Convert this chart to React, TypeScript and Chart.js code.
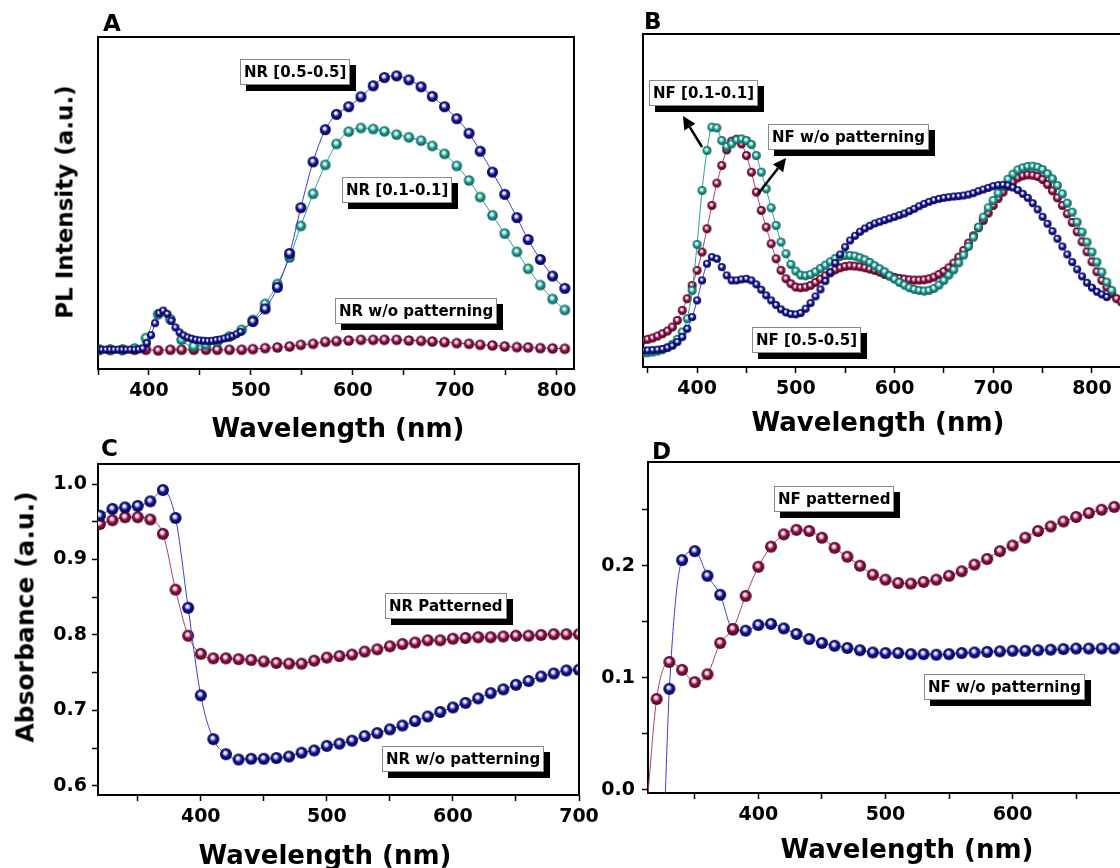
import React, { useEffect, useRef } from 'react';
import { Chart, registerables } from 'chart.js';

Chart.register(...registerables);

const FONT = "'DejaVu Sans', 'Liberation Sans', Arial, sans-serif";

// ---------------- Panel A : PL of nanorods ----------------
const A_X_BLUE = [
  350, 354, 358, 362, 366, 370, 374, 378, 382, 386, 390, 394, 398, 402, 406, 410, 414, 418, 422, 426,
  430, 434, 438, 442, 446, 450, 454, 458, 462, 466, 470, 474, 478, 482, 486, 490,
  502, 514, 526, 538, 549, 561, 573, 584, 596, 608, 620, 631, 643, 655, 667, 678, 690, 702, 714, 725,
  737, 749, 761, 772, 784, 796, 808,
];
const A_BLUE = [
  5.8, 5.8, 5.8, 5.8, 5.8, 5.8, 5.8, 5.8, 5.8, 5.8, 5.9, 6.2, 7.8, 10.2, 13.8, 16.8, 17.6, 16.6, 14.5, 12.5,
  11, 10.1, 9.5, 9.1, 8.8, 8.6, 8.5, 8.4, 8.5, 8.7, 8.9, 9.2, 9.5, 9.9, 10.5, 11.2,
  14.3, 18.1, 24.6, 34.8, 48.6, 62.4, 72.1, 76.7, 79, 82, 85.3, 87.8, 88.3, 87.1, 85, 82.1, 79, 75.4, 71, 65.6,
  59.3, 52.6, 45.6, 39, 33, 28, 24.3,
];
const A_BLUE_DENSE_COUNT = 36;
const A_X = [
  351, 362, 374, 386, 397, 409, 421, 432, 444, 456, 467, 479, 491, 502, 514, 526, 538, 549, 561, 573,
  584, 596, 608, 620, 631, 643, 655, 667, 678, 690, 702, 714, 725, 737, 749, 761, 772, 784, 796, 808,
];
const A_TEAL = [
  5.8, 5.8, 5.8, 6.2, 9.3, 16.5, 15, 8.8, 6.8, 7.3, 8.3, 9.8, 11.8, 14.8, 19.6, 25.6, 33.6, 43.1, 52.8, 61.5,
  67.8, 71.5, 72.6, 72.3, 71.6, 70.6, 69.8, 68.8, 67.2, 64.8, 61.2, 56.8, 51.8, 46.3, 40.8, 35.3, 30.2, 25.3, 21.1, 17.8,
];
const A_MAROON = [
  5.8, 5.8, 5.8, 5.8, 5.8, 5.6, 5.8, 5.8, 5.8, 5.8, 5.8, 5.8, 5.8, 6.0, 6.3, 6.5, 6.8, 7.3, 7.6, 8.2,
  8.4, 8.6, 8.8, 8.8, 8.8, 8.8, 8.6, 8.5, 8.3, 8.1, 7.8, 7.6, 7.3, 7.1, 6.8, 6.6, 6.5, 6.3, 6.2, 6.1,
];
const A_X_TICKS = [350, 400, 450, 500, 550, 600, 650, 700, 750, 800];

// ---------------- Panel B : PL of nanoflowers ----------------
const B_X = [
  345, 350, 355, 360, 365, 370, 375, 380, 385, 390, 395, 400, 405, 410, 415, 420, 425, 430, 435, 440,
  445, 450, 455, 460, 465, 470, 475, 480, 485, 490, 495, 500, 505, 510, 515, 520, 525, 530, 535, 540,
  545, 550, 555, 560, 565, 570, 575, 580, 585, 590, 595, 600, 605, 610, 615, 620, 625, 630, 635, 640,
  645, 650, 655, 660, 665, 670, 675, 680, 685, 690, 695, 700, 705, 710, 715, 720, 725, 730, 735, 740,
  745, 750, 755, 760, 765, 770, 775, 780, 785, 790, 795, 800, 805, 810, 815, 820, 825, 830,
];
const B_TEAL = [
  4.2, 4.3, 4.5, 4.8, 5.2, 5.8, 6.8, 8.3, 10.5, 14.5,
  23, 36.8, 53, 65, 72, 71.8, 68, 66.2, 67, 68.2,
  68.5, 68, 66.8, 63.5, 58.5, 53.5, 47.8, 42.5, 37.5, 34,
  30.8, 28.8, 27.6, 27.4, 27.8, 28.6, 29.6, 30.6, 31.6, 32.6,
  33.2, 33.5, 33.5, 33.3, 32.8, 32.2, 31.4, 30.4, 29.5, 28.6,
  27.4, 26.4, 25.4, 24.6, 23.8, 23.3, 23, 22.8, 23, 23.6,
  24.6, 26, 27.6, 29.2, 31.3, 33.6, 36.2, 39, 42, 45,
  47.8, 50, 52.2, 54.2, 56.4, 57.9, 59.2, 59.8, 60.2, 60.3,
  60, 59.3, 58, 56.5, 54.5, 52, 49.2, 46.5, 43.5, 40.5,
  37.5, 34.5, 31.5, 28.5, 25.5, 23,
];
const B_MAROON = [
  8, 8.3, 8.7, 9.3, 10, 10.8, 12, 14, 17, 20.5,
  24.5, 29, 34.5, 41.5, 48.5, 55.2, 60.5, 65.2, 67.8, 68.4,
  67, 63.5, 58.5, 52.5, 47, 42, 37, 32.5, 29, 26.5,
  25, 24, 23.8, 24, 24.5, 25.4, 26.4, 27.4, 28.3, 29.2,
  29.8, 30.2, 30.4, 30.3, 30.1, 29.8, 29.4, 29, 28.5, 27.8,
  27.3, 26.9, 26.6, 26.4, 26.2, 26.1, 26.1, 26.2, 26.5, 27,
  27.8, 28.7, 29.8, 31.2, 33, 35, 37.2, 39.4, 41.8, 44,
  46.2, 48.5, 50.6, 52.5, 54.3, 55.6, 56.8, 57.4, 57.7, 57.6,
  57.2, 56.3, 54.8, 52.9, 50.8, 48.5, 46, 43.4, 40.6, 37.6,
  34.6, 31.6, 28.6, 26, 24, 22, 20.5, 19.5,
];
const B_BLUE = [
  5, 5, 5.1, 5.2, 5.4, 5.8, 6.4, 7.5, 9, 11.5,
  15, 20, 26, 31, 33, 32.5, 30, 27.5, 26, 26,
  26.3, 26.5, 26, 24.8, 23.2, 21.5, 20, 18.6, 17.3, 16.4,
  15.9, 15.8, 16.2, 17.5, 19.2, 21.2, 23.3, 25.8, 28.4, 31.2,
  33.8, 36, 38, 39.4, 40.6, 41.6, 42.4, 43.1, 43.6, 44.1,
  44.6, 45.1, 45.6, 46.1, 46.8, 47.5, 48.3, 49, 49.6, 50.1,
  50.5, 50.8, 51, 51.2, 51.3, 51.5, 51.8, 52.2, 52.8, 53.3,
  53.8, 54.3, 54.6, 54.7, 54.5, 53.9, 53.1, 52, 50.8, 49.2,
  47.3, 45.1, 43, 40.8, 38.5, 36.2, 33.8, 31.5, 29.3, 27.2,
  25.3, 23.8, 22.6, 21.8, 21,
];
const B_X_TICKS = [350, 400, 450, 500, 550, 600, 650, 700, 750, 800];

// ---------------- Panel C : absorbance of nanorods ----------------
const C_X = [
  320, 330, 340, 350, 360, 370, 380, 390, 400, 410, 420, 430, 440, 450, 460, 470, 480, 490, 500, 510,
  520, 530, 540, 550, 560, 570, 580, 590, 600, 610, 620, 630, 640, 650, 660, 670, 680, 690, 700,
];
const C_BLUE = [
  0.958, 0.967, 0.969, 0.971, 0.977, 0.992, 0.955, 0.836, 0.720, 0.662, 0.642, 0.635, 0.636, 0.636, 0.637,
  0.639, 0.644, 0.647, 0.653, 0.656, 0.660, 0.666, 0.670, 0.675, 0.680, 0.686, 0.692, 0.698, 0.704, 0.710,
  0.716, 0.723, 0.728, 0.734, 0.739, 0.745, 0.749, 0.753, 0.754,
];
const C_MAROON = [
  0.947, 0.952, 0.956, 0.956, 0.953, 0.934, 0.860, 0.799, 0.775, 0.769, 0.769, 0.768, 0.767, 0.765, 0.763,
  0.762, 0.762, 0.766, 0.770, 0.772, 0.774, 0.778, 0.781, 0.785, 0.788, 0.790, 0.793, 0.793, 0.795, 0.796,
  0.797, 0.797, 0.798, 0.799, 0.799, 0.800, 0.801, 0.801, 0.801,
];
const C_X_TICKS = [350, 400, 450, 500, 550, 600, 650, 700];
const C_Y_TICKS = [0.6, 0.65, 0.7, 0.75, 0.8, 0.85, 0.9, 0.95, 1.0];

// ---------------- Panel D : absorbance of nanoflowers ----------------
const D_X_MAROON = [
  312, 320, 330, 340, 350, 360, 370, 380, 390, 400, 410, 420, 430, 440, 450, 460, 470, 480, 490, 500,
  510, 520, 530, 540, 550, 560, 570, 580, 590, 600, 610, 620, 630, 640, 650, 660, 670, 680,
];
const D_MAROON = [
  -0.02, 0.081, 0.114, 0.107, 0.096, 0.103, 0.131, 0.1435, 0.173, 0.199, 0.217, 0.228, 0.232, 0.231, 0.225,
  0.216, 0.208, 0.200, 0.192, 0.1875, 0.1845, 0.184, 0.1855, 0.1875, 0.191, 0.195, 0.201, 0.206, 0.213,
  0.218, 0.225, 0.231, 0.235, 0.2395, 0.2435, 0.247, 0.250, 0.2525,
];
const D_X_BLUE = [
  326, 330, 340, 350, 360, 370, 380, 390, 400, 410, 420, 430, 440, 450, 460, 470, 480, 490, 500, 510,
  520, 530, 540, 550, 560, 570, 580, 590, 600, 610, 620, 630, 640, 650, 660, 670, 680,
];
const D_BLUE = [
  -0.03, 0.090, 0.205, 0.213, 0.191, 0.174, 0.143, 0.142, 0.147, 0.148, 0.144, 0.139, 0.1345, 0.131, 0.1285,
  0.1265, 0.1245, 0.1225, 0.122, 0.122, 0.121, 0.121, 0.1205, 0.121, 0.122, 0.1225, 0.123, 0.1235, 0.124,
  0.124, 0.1245, 0.125, 0.1255, 0.126, 0.126, 0.126, 0.126,
];
const D_X_TICKS = [350, 400, 450, 500, 550, 600, 650];
const D_Y_TICKS = [0, 0.05, 0.1, 0.15, 0.2, 0.25];

// ---------------- styling ----------------
type Col = { base: string; light: string; dark: string; line: string };
const BLUE: Col = { base: '#121296', light: '#b4b4f0', dark: '#04044a', line: '#3c3cd6' };
const TEAL: Col = { base: '#1f9d92', light: '#bdeee8', dark: '#0a5a53', line: '#2aa197' };
const MAROON: Col = { base: '#8d0f45', light: '#eeb2cc', dark: '#4a0522', line: '#b0406e' };

function sphere(c: Col, d: number): HTMLCanvasElement {
  const s = Math.ceil(d) + 2;
  const cv = document.createElement('canvas');
  cv.width = s;
  cv.height = s;
  const g = cv.getContext('2d')!;
  const r = d / 2;
  const cx = s / 2;
  const cy = s / 2;
  const grad = g.createRadialGradient(cx - r * 0.18, cy - r * 0.3, 0, cx, cy, r);
  grad.addColorStop(0, '#ffffff');
  grad.addColorStop(0.14, '#ffffff');
  grad.addColorStop(0.3, c.light);
  grad.addColorStop(0.55, c.base);
  grad.addColorStop(1, c.dark);
  g.fillStyle = grad;
  g.beginPath();
  g.arc(cx, cy, r, 0, Math.PI * 2);
  g.fill();
  return cv;
}

function series(xs: number[], ys: number[], c: Col, size: (i: number) => number) {
  const cache = new Map<number, HTMLCanvasElement>();
  const img = (d: number) => {
    if (!cache.has(d)) cache.set(d, sphere(c, d));
    return cache.get(d)!;
  };
  return {
    data: xs.map((x, i) => ({ x, y: ys[i] })),
    borderColor: c.line,
    backgroundColor: c.base,
    borderWidth: 1,
    pointStyle: (ctx: any) => img(size(ctx.dataIndex)),
    pointRadius: 5,
    pointHoverRadius: 5,
    showLine: true,
    fill: false,
    cubicInterpolationMode: 'monotone',
  };
}

const framePlugin = {
  id: 'frame',
  afterDatasetsDraw(chart: any) {
    const { ctx, chartArea: a } = chart;
    ctx.save();
    ctx.strokeStyle = '#000';
    ctx.lineWidth = 2;
    ctx.beginPath();
    ctx.moveTo(a.left, a.top);
    ctx.lineTo(a.right, a.top);
    ctx.lineTo(a.right, a.bottom);
    ctx.stroke();
    ctx.restore();
  },
};

const TICK_FONT = { family: FONT, size: 19, weight: 'bold' as const };

type Spec = {
  left: number; top: number; w: number; h: number;
  padTop: number; padRight: number; yW: number; xH: number;
  xMin: number; xMax: number; yMin: number; yMax: number;
  xTicks: number[]; yTicks: number[] | null; yPad?: number;
  datasets: () => any[];
};

function buildConfig(s: Spec): any {
  const yScale: any = {
    type: 'linear',
    min: s.yMin,
    max: s.yMax,
    afterFit: (sc: any) => { sc.width = s.yW; },
    border: { display: true, color: '#000', width: 2 },
  };
  if (s.yTicks) {
    const yt = s.yTicks;
    yScale.afterBuildTicks = (sc: any) => { sc.ticks = yt.map((v) => ({ value: v })); };
    yScale.ticks = {
      color: '#000', font: TICK_FONT, padding: s.yPad ?? 5, autoSkip: false,
      callback: (v: number) => {
        const t = Math.round(v * 10);
        return Math.abs(v * 10 - t) < 1e-6 ? (t / 10).toFixed(1) : '';
      },
    };
    yScale.grid = { display: true, drawOnChartArea: false, drawTicks: true, tickLength: 6, tickColor: '#000', tickWidth: 1.5 };
  } else {
    yScale.ticks = { display: false };
    yScale.grid = { display: false };
  }
  return {
    type: 'line',
    data: { datasets: s.datasets() },
    options: {
      responsive: false,
      animation: false,
      events: [],
      layout: { padding: { left: 0, top: s.padTop, right: s.padRight, bottom: 0 } },
      plugins: { legend: { display: false }, tooltip: { enabled: false }, title: { display: false } },
      scales: {
        x: {
          type: 'linear',
          position: 'bottom',
          min: s.xMin,
          max: s.xMax,
          afterBuildTicks: (sc: any) => { sc.ticks = s.xTicks.map((v) => ({ value: v })); },
          afterFit: (sc: any) => { sc.height = s.xH; },
          ticks: {
            color: '#000', font: TICK_FONT, padding: 5, maxRotation: 0, autoSkip: false,
            callback: (v: number) => (Math.abs(v % 100) < 1e-6 ? String(v) : ''),
          },
          grid: { display: true, drawOnChartArea: false, drawTicks: true, tickLength: 6, tickColor: '#000', tickWidth: 1.5 },
          border: { display: true, color: '#000', width: 2 },
        },
        y: yScale,
      },
    },
    plugins: [framePlugin],
  };
}

const SPEC_A: Spec = {
  left: 0, top: 0, w: 610, h: 445, padTop: 37, padRight: 36, yW: 98, xH: 76,
  xMin: 350, xMax: 817, yMin: 0, yMax: 100, xTicks: A_X_TICKS, yTicks: null,
  datasets: () => [
    series(A_X_BLUE, A_BLUE, BLUE, (i) => (i < A_BLUE_DENSE_COUNT ? 8 : 11)),
    series(A_X, A_TEAL, TEAL, () => 10.5),
    series(A_X, A_MAROON, MAROON, () => 10.5),
  ],
};

const SPEC_B: Spec = {
  left: 560, top: 0, w: 600, h: 445, padTop: 34, padRight: 33, yW: 83, xH: 78,
  xMin: 345.2, xMax: 835.5, yMin: 0, yMax: 100, xTicks: B_X_TICKS, yTicks: null,
  datasets: () => [
    series(B_X.slice(0, B_BLUE.length), B_BLUE, BLUE, () => 8),
    series(B_X.slice(0, B_TEAL.length), B_TEAL, TEAL, () => 9),
    series(B_X.slice(0, B_MAROON.length), B_MAROON, MAROON, () => 9),
  ],
};

const SPEC_C: Spec = {
  left: 0, top: 430, w: 620, h: 438, padTop: 34, padRight: 41, yW: 98, xH: 73,
  xMin: 318.5, xMax: 700, yMin: 0.588, yMax: 1.0265, xTicks: C_X_TICKS, yTicks: C_Y_TICKS, yPad: 5,
  datasets: () => [
    series(C_X, C_BLUE, BLUE, () => 12),
    series(C_X, C_MAROON, MAROON, () => 12),
  ],
};

const SPEC_D: Spec = {
  left: 560, top: 430, w: 600, h: 438, padTop: 32, padRight: 33, yW: 88, xH: 75,
  xMin: 313.2, xMax: 690, yMin: -0.003, yMax: 0.2926, xTicks: D_X_TICKS, yTicks: D_Y_TICKS, yPad: 7,
  datasets: () => [
    series(D_X_MAROON, D_MAROON, MAROON, () => 12),
    series(D_X_BLUE, D_BLUE, BLUE, () => 12),
  ],
};

function Panel({ spec }: { spec: Spec }) {
  const ref = useRef<HTMLCanvasElement>(null);
  useEffect(() => {
    const chart = new Chart(ref.current!, buildConfig(spec));
    return () => chart.destroy();
  }, [spec]);
  return (
    <canvas
      ref={ref}
      width={spec.w}
      height={spec.h}
      style={{ position: 'absolute', left: spec.left, top: spec.top, width: spec.w, height: spec.h }}
    />
  );
}

function Tag({ text, left, top }: { text: string; left: number; top: number }) {
  return (
    <div
      style={{
        position: 'absolute', left, top, background: '#fff', border: '1px solid #8a8a8a',
        boxShadow: '6px 6px 0 #000', fontFamily: FONT, fontWeight: 'bold', fontSize: 15,
        lineHeight: '20px', padding: '2px 3px', whiteSpace: 'nowrap', color: '#000',
      }}
    >
      {text}
    </div>
  );
}

function Title({ text, cx, cy, size, rotate }: { text: string; cx: number; cy: number; size: number; rotate?: boolean }) {
  return (
    <div
      style={{
        position: 'absolute', left: cx, top: cy,
        transform: `translate(-50%, -50%)${rotate ? ' rotate(-90deg)' : ''}`,
        fontFamily: FONT, fontWeight: 'bold', fontSize: size, lineHeight: 1, whiteSpace: 'nowrap', color: '#000',
      }}
    >
      {text}
    </div>
  );
}

function Letter({ text, left, top }: { text: string; left: number; top: number }) {
  return (
    <div style={{ position: 'absolute', left, top, fontFamily: FONT, fontWeight: 'bold', fontSize: 23, lineHeight: 1, color: '#000' }}>
      {text}
    </div>
  );
}

function Arrow({ x1, y1, x2, y2 }: { x1: number; y1: number; x2: number; y2: number }) {
  const ang = Math.atan2(y2 - y1, x2 - x1);
  const L = 13;
  const W = 6.5;
  const bx = x2 - L * Math.cos(ang);
  const by = y2 - L * Math.sin(ang);
  const p1 = `${bx + W * Math.sin(ang)},${by - W * Math.cos(ang)}`;
  const p2 = `${bx - W * Math.sin(ang)},${by + W * Math.cos(ang)}`;
  return (
    <g>
      <line x1={x1} y1={y1} x2={bx} y2={by} stroke="#000" strokeWidth={2.5} />
      <polygon points={`${x2},${y2} ${p1} ${p2}`} fill="#000" />
    </g>
  );
}

export default function App() {
  return (
    <div style={{ position: 'fixed', left: 0, top: 0, width: 1120, height: 868, overflow: 'hidden', background: '#fff' }}>
      <Panel spec={SPEC_A} />
      <Panel spec={SPEC_B} />
      <Panel spec={SPEC_C} />
      <Panel spec={SPEC_D} />

      <Letter text="A" left={103} top={12} />
      <Letter text="B" left={644} top={10} />
      <Letter text="C" left={101} top={437} />
      <Letter text="D" left={652} top={440} />

      <Title text="Wavelength (nm)" cx={338} cy={428} size={26} />
      <Title text="Wavelength (nm)" cx={878} cy={422} size={26} />
      <Title text="Wavelength (nm)" cx={325} cy={855} size={26} />
      <Title text="Wavelength (nm)" cx={907} cy={849} size={26} />
      <Title text="PL Intensity (a.u.)" cx={65} cy={202} size={23} rotate />
      <Title text="Absorbance (a.u.)" cx={25} cy={617} size={25} rotate />

      <Tag text="NR [0.5-0.5]" left={240} top={59} />
      <Tag text="NR [0.1-0.1]" left={342} top={177} />
      <Tag text="NR w/o patterning" left={335} top={298} />

      <Tag text="NF [0.1-0.1]" left={649} top={80} />
      <Tag text="NF w/o patterning" left={768} top={124} />
      <Tag text="NF [0.5-0.5]" left={752} top={327} />

      <Tag text="NR Patterned" left={385} top={593} />
      <Tag text="NR w/o patterning" left={382} top={746} />

      <Tag text="NF patterned" left={774} top={486} />
      <Tag text="NF w/o patterning" left={924} top={674} />

      <svg width={1120} height={868} style={{ position: 'absolute', left: 0, top: 0, pointerEvents: 'none' }}>
        <Arrow x1={702} y1={147} x2={683} y2={116} />
        <Arrow x1={758} y1={194} x2={786} y2={158} />
      </svg>
    </div>
  );
}
